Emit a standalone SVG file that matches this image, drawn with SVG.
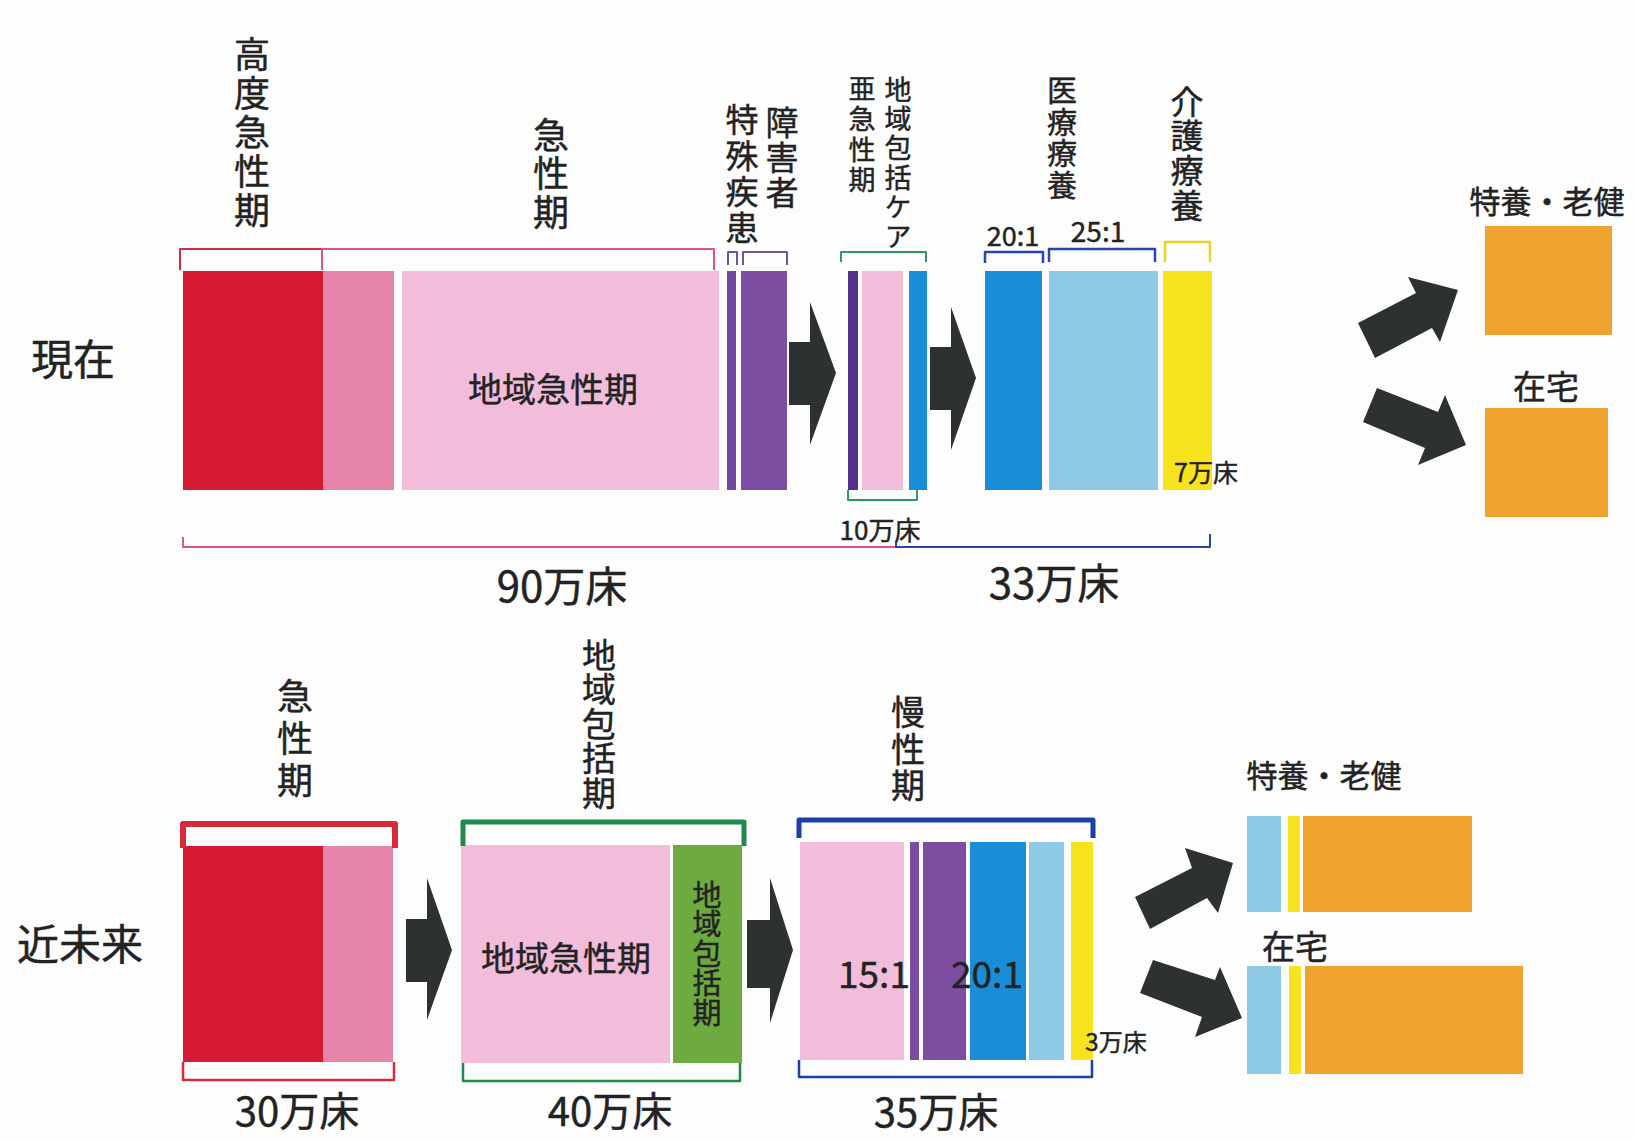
<svg xmlns="http://www.w3.org/2000/svg" width="1634" height="1141" viewBox="0 0 1634 1141">
<style>
.t{font-family:"Noto Sans CJK JP","Noto Sans",sans-serif;fill:#232323;stroke:#232323;stroke-width:0.45;text-anchor:middle;dominant-baseline:central}
.vt{writing-mode:vertical-rl;text-orientation:upright}
.br{fill:none;stroke-linejoin:round}
.arrow{fill:#2e3132}
</style>
<rect width="1634" height="1141" fill="#fdfdfd"/>

<!-- Row labels -->
<g id="label-now"><text class="t" x="73" y="356" font-size="42">現在</text></g>
<g id="label-future"><text class="t" x="80" y="941" font-size="42">近未来</text></g>

<!-- ===== Current row ===== -->
<g id="now-high-acute">
  <rect x="183" y="271" width="140" height="219" fill="#d61a31"/>
  <text class="t vt" x="252" y="134" font-size="36" letter-spacing="3">高度急性期</text>
</g>
<g id="now-acute">
  <rect x="323" y="271" width="71" height="219" fill="#e585aa"/>
  <rect x="402" y="271" width="317" height="219" fill="#f2bddb"/>
  <text class="t" x="553" y="387" font-size="34">地域急性期</text>
  <text class="t vt" x="551" y="175" font-size="36" letter-spacing="2.5">急性期</text>
</g>
<g id="now-special">
  <rect x="727" y="271" width="9" height="219" fill="#6f4aa0"/>
  <text class="t vt" x="742" y="175" font-size="33" letter-spacing="3">特殊疾患</text>
</g>
<g id="now-disabled">
  <rect x="741" y="271" width="46" height="219" fill="#7d4da2"/>
  <text class="t vt" x="782" y="158" font-size="33" letter-spacing="2">障害者</text>
</g>
<g id="now-subacute">
  <rect x="848" y="271" width="10" height="219" fill="#52308c"/>
  <rect x="862" y="271" width="41" height="219" fill="#f2bddb"/>
  <rect x="909" y="271" width="18" height="219" fill="#1b8dd6"/>
  <text class="t vt" x="862" y="136" font-size="27" letter-spacing="3.3">亜急性期</text>
  <text class="t vt" x="898" y="164" font-size="27" letter-spacing="2.4">地域包括ケア</text>
  <text class="t" x="880" y="528" font-size="26">10万床</text>
</g>
<g id="now-medical-care">
  <rect x="985" y="271" width="57" height="219" fill="#1b8dd6"/>
  <rect x="1049" y="271" width="109" height="219" fill="#8ec9e6"/>
  <text class="t vt" x="1062" y="138" font-size="30" letter-spacing="1.7">医療療養</text>
  <text class="t" x="1013" y="234" font-size="27">20:1</text>
  <text class="t" x="1098" y="230" font-size="28">25:1</text>
</g>
<g id="now-nursing-care">
  <rect x="1163" y="271" width="49" height="219" fill="#f6e21d"/>
  <text class="t vt" x="1187" y="154" font-size="33" letter-spacing="1.7">介護療養</text>
  <text class="t" x="1206" y="471" font-size="25">7万床</text>
</g>
<g id="now-facility">
  <text class="t" x="1547" y="199" font-size="31">特養・老健</text>
  <rect x="1485" y="226" width="127" height="109" fill="#f1a32f"/>
</g>
<g id="now-home">
  <text class="t" x="1546" y="385" font-size="33">在宅</text>
  <rect x="1485" y="408" width="123" height="109" fill="#f1a32f"/>
</g>
<g id="now-totals">
  <text class="t" x="562" y="583" font-size="42">90万床</text>
  <text class="t" x="1054" y="580" font-size="42">33万床</text>
</g>

<!-- ===== Near future row ===== -->
<g id="future-acute">
  <rect x="183" y="846" width="140" height="216" fill="#d61a31"/>
  <rect x="323" y="846" width="70" height="216" fill="#e585aa"/>
  <text class="t vt" x="295" y="741" font-size="36" letter-spacing="6">急性期</text>
  <text class="t" x="297" y="1109" font-size="40">30万床</text>
</g>
<g id="future-community">
  <rect x="461" y="845" width="209" height="218" fill="#f2bddb"/>
  <rect x="673" y="845" width="69" height="218" fill="#6daa3f"/>
  <text class="t" x="566" y="956" font-size="34">地域急性期</text>
  <text class="t vt" x="707" y="954" font-size="29" letter-spacing="0.6">地域包括期</text>
  <text class="t vt" x="599" y="724" font-size="34" letter-spacing="0.5">地域包括期</text>
  <text class="t" x="610" y="1109" font-size="40">40万床</text>
</g>
<g id="future-chronic">
  <rect x="800" y="842" width="104" height="218" fill="#f2bddb"/>
  <rect x="910" y="842" width="9" height="218" fill="#7d4da2"/>
  <rect x="923" y="842" width="43" height="218" fill="#7d4da2"/>
  <rect x="970" y="842" width="56" height="218" fill="#1b8dd6"/>
  <rect x="1029" y="842" width="35" height="218" fill="#8ec9e6"/>
  <rect x="1071" y="842" width="22" height="218" fill="#f6e21d"/>
  <text class="t vt" x="908" y="750" font-size="34" letter-spacing="2.5">慢性期</text>
  <text class="t" x="874" y="972" font-size="37">15:1</text>
  <text class="t" x="987" y="972" font-size="37">20:1</text>
  <text class="t" x="1116" y="1040" font-size="24">3万床</text>
  <text class="t" x="936" y="1110" font-size="40">35万床</text>
</g>
<g id="future-facility">
  <text class="t" x="1324" y="773" font-size="31">特養・老健</text>
  <rect x="1247" y="816" width="34" height="96" fill="#8ec9e6"/>
  <rect x="1288" y="816" width="12" height="96" fill="#f6e21d"/>
  <rect x="1303" y="816" width="169" height="96" fill="#f1a32f"/>
</g>
<g id="future-home">
  <text class="t" x="1295" y="945" font-size="33">在宅</text>
  <rect x="1247" y="966" width="34" height="108" fill="#8ec9e6"/>
  <rect x="1289" y="966" width="12" height="108" fill="#f6e21d"/>
  <rect x="1305" y="966" width="218" height="108" fill="#f1a32f"/>
</g>

<!-- ===== Brackets ===== -->
<g id="brackets">
  <path class="br" d="M180,270 V249 H322 V270" stroke="#d42a45" stroke-width="2"/>
  <path class="br" d="M322,270 V249 H714 V270" stroke="#e0508a" stroke-width="2"/>
  <path class="br" d="M728,265 V252 H737 V265" stroke="#6c55a0" stroke-width="2"/>
  <path class="br" d="M743,265 V252 H787 V265" stroke="#6c55a0" stroke-width="2"/>
  <path class="br" d="M841,262 V252 H926 V262" stroke="#2e9b5e" stroke-width="2"/>
  <path class="br" d="M848,490 V500 H917 V490" stroke="#2e9b5e" stroke-width="2"/>
  <path class="br" d="M985,263 V252 H1043 V263" stroke="#2647a8" stroke-width="2.5"/>
  <path class="br" d="M1049,262 V249 H1155 V262" stroke="#2647a8" stroke-width="2.5"/>
  <path class="br" d="M1165,262 V242 H1210 V262" stroke="#ebd21e" stroke-width="2.5"/>
  <path class="br" d="M183,537 V547 H896" stroke="#e0508a" stroke-width="2"/>
  <path class="br" d="M896,541 V547 H1210 V534" stroke="#2647a8" stroke-width="2"/>

  <path class="br" d="M183,848 V824 H395 V848" stroke="#d82b3a" stroke-width="6"/>
  <path class="br" d="M183,1062 V1080 H394 V1062" stroke="#d82b3a" stroke-width="2.5"/>
  <path class="br" d="M463,846 V822 H744 V846" stroke="#1f8a4e" stroke-width="5"/>
  <path class="br" d="M463,1063 V1081 H740 V1063" stroke="#1f8a4e" stroke-width="2.5"/>
  <path class="br" d="M799,838 V820 H1093 V838" stroke="#1e40a6" stroke-width="5"/>
  <path class="br" d="M799,1060 V1077 H1092 V1060" stroke="#1e40a6" stroke-width="2.5"/>
</g>

<!-- ===== Connectors ===== -->
<g id="connectors">
  <polygon class="arrow" points="789,342 810,342 810,302 836,373 810,445 810,405 789,405"/>
  <polygon class="arrow" points="930,347 951,347 951,307 976,378 951,450 951,410 930,410"/>
  <polygon class="arrow" points="1358,323 1416,293 1408,277 1458,290 1440,342 1432,328 1375,358"/>
  <polygon class="arrow" points="1377,388 1438,412 1445,395 1466,445 1418,465 1425,448 1363,422"/>
  <polygon class="arrow" points="406,919 427,919 427,878 452,950 427,1020 427,982 406,982"/>
  <polygon class="arrow" points="747,920 770,920 770,878 793,950 770,1023 770,988 747,988"/>
  <polygon class="arrow" points="1135,897 1192,868 1185,848 1233,863 1218,913 1207,898 1150,929"/>
  <polygon class="arrow" points="1153,960 1215,980 1220,967 1242,1018 1195,1037 1202,1017 1140,993"/>
</g>
</svg>
